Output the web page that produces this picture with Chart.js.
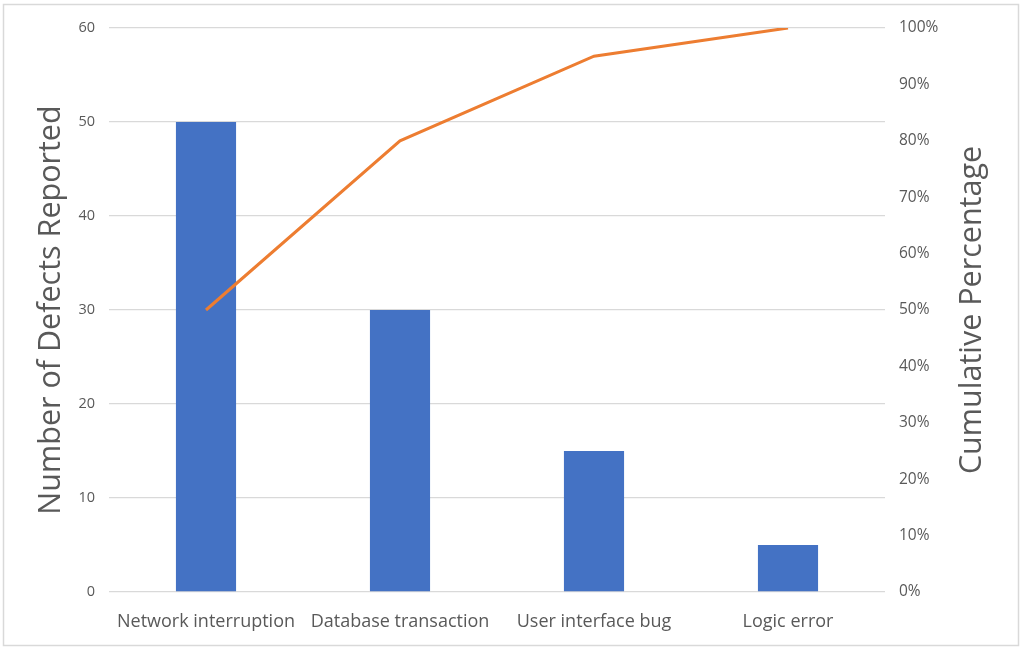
<!DOCTYPE html>
<html>
<head>
<meta charset="utf-8">
<script src="https://cdn.jsdelivr.net/npm/chart.js@4.4.1/dist/chart.umd.min.js"></script>
<style>
    body { margin: 0; background: #fff; }
    #wrap { position: relative; width: 1024px; height: 649px; }
</style>
</head>
<body>
<div id="wrap"><canvas id="paretoChart"></canvas></div>
<script>
// Data
const categories = ['Network interruption', 'Database transaction', 'User interface bug', 'Logic error'];
const defectCounts = [50, 30, 15, 5];
const cumulativePercent = [50, 80, 95, 100];

const textColor = '#595959';
const fontFamily = '"Open Sans", sans-serif';

// frame round the chart + right title reading bottom-to-top
const framePlugin = {
    id: 'frame',
    beforeDraw(chart) {
        const c = chart.ctx;
        c.save();
        c.fillStyle = '#fff';
        c.fillRect(0, 0, chart.width, chart.height);
        c.strokeStyle = '#d9d9d9';
        c.lineWidth = 1.5;
        c.strokeRect(3.5, 4.5, 1015, 641);
        c.restore();
    },
    afterDraw(chart) {
        const c = chart.ctx;
        const area = chart.chartArea;
        c.save();
        c.translate(972, (area.top + area.bottom) / 2);
        c.rotate(-Math.PI / 2);
        c.fillStyle = textColor;
        c.font = '30.5px ' + fontFamily;
        c.textAlign = 'center';
        c.textBaseline = 'middle';
        c.fillText('Cumulative Percentage', 0, 0);
        c.restore();
    }
};

const ctx = document.getElementById('paretoChart').getContext('2d');
const paretoChart = new Chart(ctx, {
    type: 'bar',
    data: {
        labels: categories,
        datasets: [
            {
                type: 'line',
                label: 'Cumulative Percentage',
                data: cumulativePercent,
                yAxisID: 'yPct',
                borderColor: '#ED7D31',
                borderWidth: 3,
                pointRadius: 0,
                tension: 0,
                fill: false
            },
            {
                label: 'Number of Defects Reported',
                data: defectCounts,
                yAxisID: 'y',
                backgroundColor: '#4472C4',
                categoryPercentage: 1,
                barPercentage: 0.31
            }
        ]
    },
    options: {
        responsive: true,
        maintainAspectRatio: false,
        animation: false,
        layout: { padding: { top: 28, left: 0, right: 0, bottom: 0 } },
        plugins: {
            legend: { display: false },
            tooltip: { enabled: false }
        },
        scales: {
            x: {
                grid: { display: false, drawTicks: false },
                border: { display: false },
                ticks: {
                    color: textColor,
                    font: { family: fontFamily, size: 18 },
                    padding: 19,
                    maxRotation: 0
                },
                afterFit(scale) { scale.height = 57; }
            },
            y: {
                position: 'left',
                min: 0,
                max: 60,
                ticks: {
                    stepSize: 10,
                    color: textColor,
                    font: { family: fontFamily, size: 14.5 },
                    padding: 14,
                    callback: v => v
                },
                grid: { color: '#d9d9d9', lineWidth: 1.3, drawTicks: false },
                border: { display: false },
                title: {
                    display: true,
                    text: 'Number of Defects Reported',
                    color: textColor,
                    font: { family: fontFamily, size: 30.5 },
                    padding: { top: 33, bottom: 0 }
                },
                afterFit(scale) { scale.width = 109; }
            },
            yPct: {
                position: 'right',
                min: 0,
                max: 100,
                ticks: {
                    stepSize: 10,
                    color: textColor,
                    font: { family: fontFamily, size: 15.5 },
                    padding: 14,
                    callback: v => v + '%'
                },
                grid: { display: false, drawTicks: false },
                border: { display: false },
                afterFit(scale) { scale.width = 139; }
            }
        }
    },
    plugins: [framePlugin]
});
</script>
</body>
</html>
